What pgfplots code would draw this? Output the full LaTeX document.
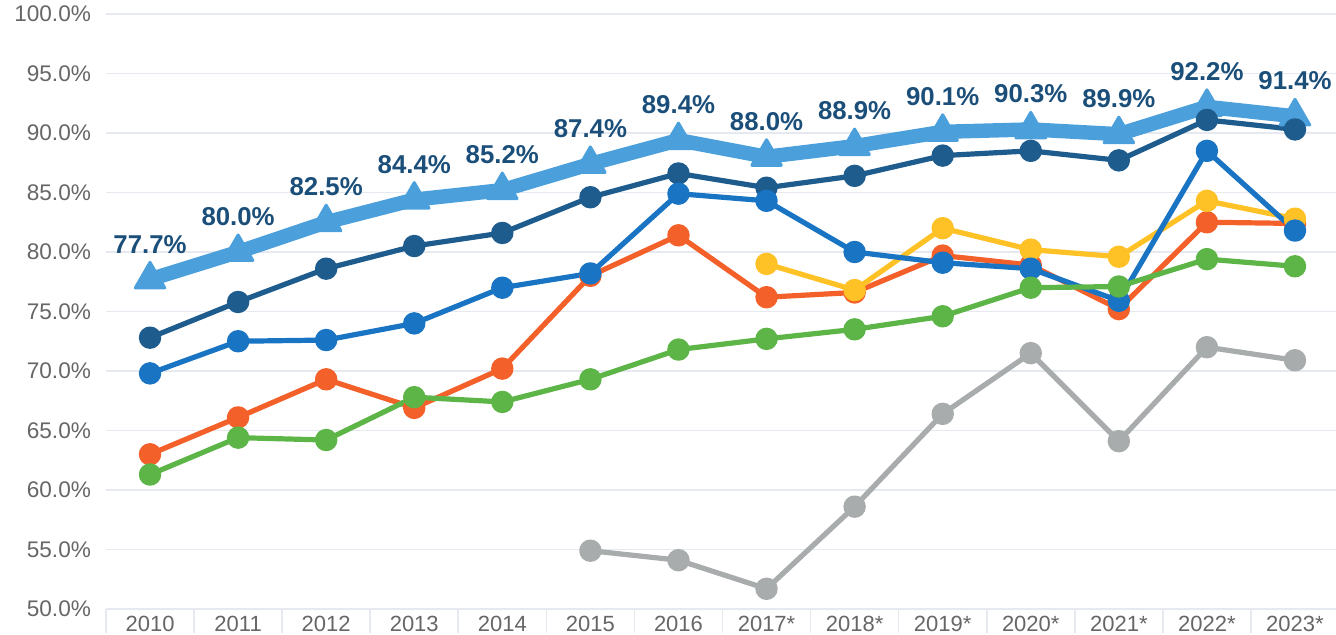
\documentclass[border=0pt]{standalone}
\usepackage{pgfplots}
\pgfplotsset{compat=1.18}
\usepackage{fontspec}
\setmainfont{Liberation Sans}

\definecolor{lblue}{HTML}{4BA0DC}
\definecolor{navy}{HTML}{1F5C8E}
\definecolor{mblue}{HTML}{1A74C4}
\definecolor{orng}{HTML}{F4602A}
\definecolor{yllw}{HTML}{FFC226}
\definecolor{grn}{HTML}{5DB548}
\definecolor{gry}{HTML}{A8ACAD}
\definecolor{lblc}{HTML}{1B4F7A}
\definecolor{tickc}{HTML}{666666}
\definecolor{gridc}{HTML}{E6EAF0}

\begin{document}
\begin{tikzpicture}
\begin{axis}[
    name=ax,
    scale only axis,
    width=616.5pt, height=297.5pt,
    xmin=-0.5, xmax=13.5,
    ymin=50, ymax=100,
    ytick={50,55,...,100},
    xtick={0,...,13},
    xticklabels={2010,2011,2012,2013,2014,2015,2016,2017*,2018*,2019*,2020*,2021*,2022*,2023*},
    xtick pos=bottom,
    axis line style={draw=none},
    ymajorgrids,
    grid style={gridc, line width=0.8pt},
    major tick length=0pt,
    extra x ticks={-0.5,0.5,...,13.5},
    extra x tick labels={},
    extra x tick style={major tick length=12pt, tick align=outside,
        tick style={draw=gridc, line width=0.8pt}},
    /pgf/number format/assume math mode=true,
    yticklabel={\pgfmathprintnumber[fixed,fixed zerofill,precision=1]{\tick}\%},
    yticklabel style={font=\fontsize{11.3}{13}\selectfont, text=tickc, xshift=-4pt},
    xticklabel style={font=\fontsize{11}{13}\selectfont, text=tickc},
    clip=false,
    every axis plot/.append style={line join=round},
]
% headline series, thick with labels
\addplot[lblue, line width=7.2pt, mark=triangle*, mark size=8.5pt,
    mark options={line width=1.5pt},
    nodes near coords={\pgfmathprintnumber[fixed,fixed zerofill,precision=1]{\pgfplotspointmeta}\%},
    nodes near coords style={font=\bfseries\fontsize{12.9}{15}\selectfont, text=lblc, anchor=south, yshift=9pt}]
coordinates {
    (0,77.7) (1,80.0) (2,82.5) (3,84.4) (4,85.2) (5,87.4) (6,89.4)
    (7,88.0) (8,88.9) (9,90.1) (10,90.3) (11,89.9) (12,92.2) (13,91.4)
};
\addplot[navy, line width=2.6pt, mark=*, mark size=4.3pt] coordinates {
    (0,72.8) (1,75.8) (2,78.6) (3,80.5) (4,81.6) (5,84.6) (6,86.6)
    (7,85.4) (8,86.4) (9,88.1) (10,88.5) (11,87.7) (12,91.1) (13,90.3)
};
\addplot[gry, line width=2.6pt, mark=*, mark size=4.3pt] coordinates {
    (5,54.9) (6,54.1) (7,51.7) (8,58.6) (9,66.4) (10,71.5) (11,64.1)
    (12,72.0) (13,70.9)
};
\addplot[orng, line width=2.6pt, mark=*, mark size=4.3pt] coordinates {
    (0,63.0) (1,66.1) (2,69.3) (3,66.9) (4,70.2) (5,78.0) (6,81.4)
    (7,76.2) (8,76.6) (9,79.7) (10,78.9) (11,75.2) (12,82.5) (13,82.4)
};
\addplot[yllw, line width=2.6pt, mark=*, mark size=4.3pt] coordinates {
    (7,79.0) (8,76.8) (9,82.0) (10,80.2) (11,79.6) (12,84.3) (13,82.8)
};
\addplot[mblue, line width=2.6pt, mark=*, mark size=4.3pt] coordinates {
    (0,69.8) (1,72.5) (2,72.6) (3,74.0) (4,77.0) (5,78.2) (6,84.9)
    (7,84.3) (8,80.0) (9,79.1) (10,78.6) (11,75.9) (12,88.5) (13,81.8)
};
\addplot[grn, line width=2.6pt, mark=*, mark size=4.3pt] coordinates {
    (0,61.3) (1,64.4) (2,64.2) (3,67.8) (4,67.4) (5,69.3) (6,71.8)
    (7,72.7) (8,73.5) (9,74.6) (10,77.0) (11,77.1) (12,79.4) (13,78.8)
};
\end{axis}
\pgfresetboundingbox
\path ([xshift=-53pt,yshift=-13pt]ax.south west) rectangle ([xshift=-1.5pt,yshift=7pt]ax.north east);
\end{tikzpicture}
\end{document}
